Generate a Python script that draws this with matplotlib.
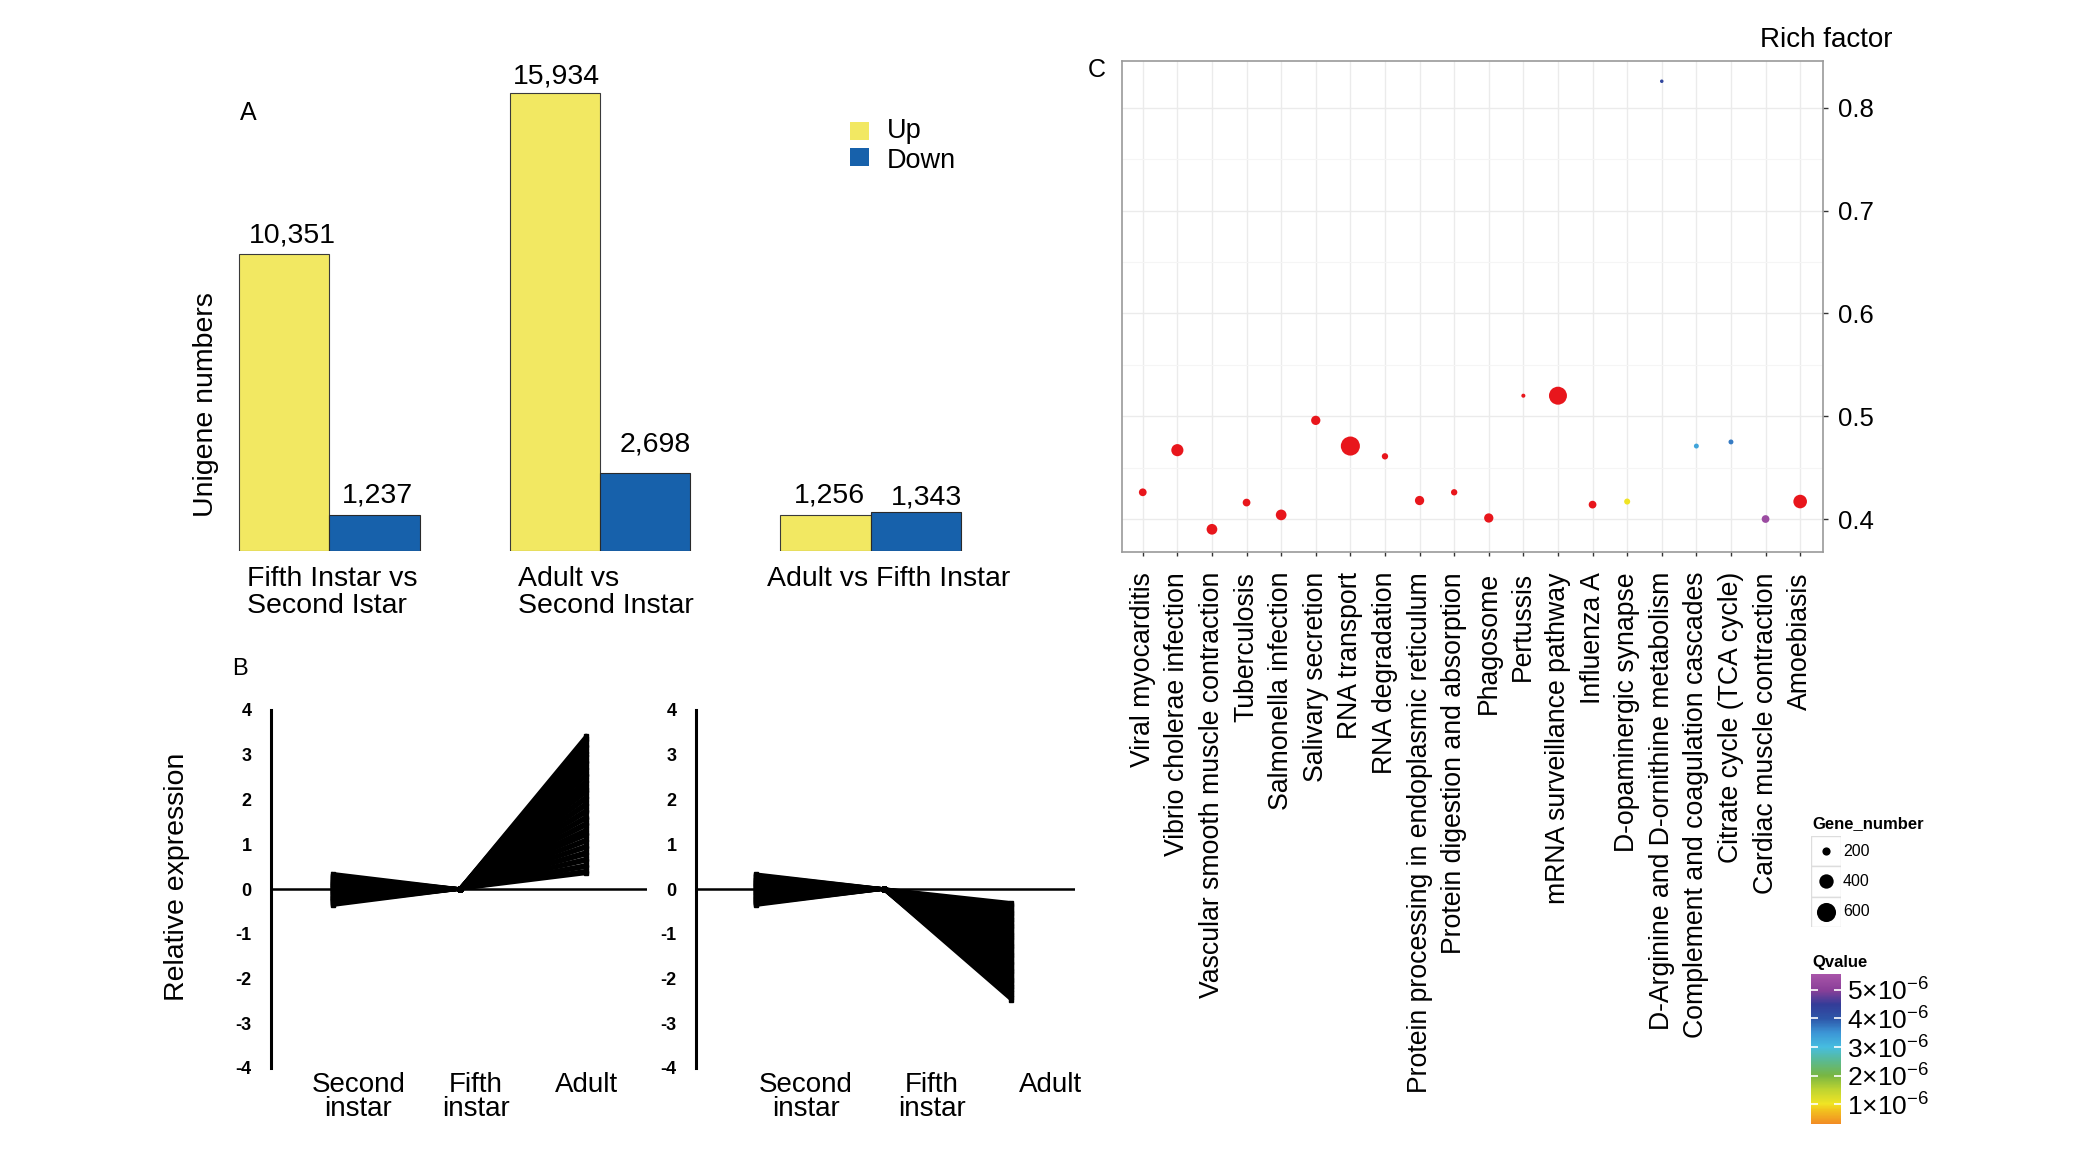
import numpy as np
import matplotlib
matplotlib.use('Agg')
import matplotlib.pyplot as plt
from matplotlib.patches import Rectangle
from matplotlib.colors import LinearSegmentedColormap, Normalize
from matplotlib.ticker import FixedLocator

plt.rcParams['font.family'] = ['Liberation Sans', 'DejaVu Sans']
plt.rcParams['mathtext.fontset'] = 'custom'
plt.rcParams['mathtext.rm'] = 'Liberation Sans'
plt.rcParams['mathtext.it'] = 'Liberation Sans:italic'
plt.rcParams['mathtext.bf'] = 'Liberation Sans:bold'

# ---------------- data ----------------
# Panel A
comparisons = ["Fifth Instar vs\nSecond Istar", "Adult vs\nSecond Instar", "Adult vs Fifth Instar"]
up_counts = [10351, 15934, 1256]
down_counts = [1237, 2698, 1343]

# Panel B (relative expression, fifth instar is the reference = 0)
stages = ["Second\ninstar", "Fifth\ninstar", "Adult"]
second_up = [0.34, 0.30, 0.28, 0.25, 0.24, 0.21, 0.19, 0.18, 0.15, 0.13, 0.12, 0.10, 0.08, 0.06,
             0.05, 0.03, 0.02, 0.00, -0.02, -0.03, -0.05, -0.07, -0.08, -0.10, -0.12, -0.13,
             -0.15, -0.17, -0.19, -0.20, -0.22, -0.24, -0.25, -0.27, -0.29, -0.31, -0.33, -0.36,
             0.11, -0.04, 0.16, -0.14, 0.07, -0.21]
adult_up = [3.42, 3.36, 3.30, 3.21, 3.17, 3.09, 3.02, 2.95, 2.87, 2.81, 2.72, 2.66, 2.57, 2.52,
            2.43, 2.37, 2.29, 2.21, 2.16, 2.07, 2.01, 1.92, 1.86, 1.77, 1.71, 1.62, 1.57, 1.48,
            1.42, 1.33, 1.26, 1.20, 1.11, 1.06, 0.97, 0.92, 0.83, 0.77, 0.68, 0.63, 0.54, 0.49,
            0.41, 0.35]
second_down = [0.33, 0.31, 0.28, 0.26, 0.23, 0.22, 0.19, 0.17, 0.16, 0.13, 0.11, 0.09, 0.08, 0.05,
               0.04, 0.02, 0.00, -0.01, -0.03, -0.05, -0.06, -0.09, -0.10, -0.12, -0.14, -0.15,
               -0.18, -0.19, -0.21, -0.23, -0.24, -0.26, -0.28, -0.30, -0.32, -0.34, -0.36, 0.12,
               -0.07, 0.20, -0.16, 0.06, -0.25, 0.14]
adult_down = [-0.31, -0.36, -0.40, -0.46, -0.51, -0.55, -0.60, -0.66, -0.70, -0.75, -0.81, -0.85,
              -0.90, -0.95, -1.00, -1.06, -1.10, -1.15, -1.21, -1.25, -1.30, -1.35, -1.41, -1.45,
              -1.50, -1.55, -1.61, -1.65, -1.70, -1.76, -1.80, -1.85, -1.90, -1.96, -2.00, -2.05,
              -2.10, -2.16, -2.20, -2.25, -2.31, -2.36, -2.41, -2.47]
FIFTH_REF = 0.0
b_yticks = [4, 3, 2, 1, 0, -1, -2, -3, -4]

# Panel C
pathways = ["Viral myocarditis", "Vibrio cholerae infection", "Vascular smooth muscle contraction",
            "Tuberculosis", "Salmonella infection", "Salivary secretion", "RNA transport",
            "RNA degradation", "Protein processing in endoplasmic reticulum",
            "Protein digestion and absorption", "Phagosome", "Pertussis",
            "mRNA surveillance pathway", "Influenza A", "D-opaminergic synapse",
            "D-Arginine and D-ornithine metabolism", "Complement and coagulation cascades",
            "Citrate cycle (TCA cycle)", "Cardiac muscle contraction", "Amoebiasis"]
rich_factor = [0.426, 0.467, 0.390, 0.416, 0.404, 0.496, 0.471, 0.461, 0.418, 0.426,
               0.401, 0.520, 0.520, 0.414, 0.417, 0.826, 0.471, 0.475, 0.400, 0.417]
gene_number = [188, 320, 273, 188, 273, 230, 600, 153, 230, 153,
               230, 104, 550, 188, 146, 94, 122, 122, 188, 372]
qvalue = [1e-9, 1e-9, 1e-9, 1e-9, 1e-9, 1e-9, 1e-9, 1e-9, 1e-9, 1e-9,
          1e-9, 1e-9, 1e-9, 1e-9, 1.0e-6, 4.3e-6, 3.3e-6, 3.7e-6, 5.3e-6, 1e-9]
legend_sizes = [200, 400, 600]
q_ticks = [1e-6, 2e-6, 3e-6, 4e-6, 5e-6]
q_ticklabels = [r'$1{\times}10^{-6}$', r'$2{\times}10^{-6}$', r'$3{\times}10^{-6}$',
                r'$4{\times}10^{-6}$', r'$5{\times}10^{-6}$']
rf_ticks = [0.4, 0.5, 0.6, 0.7, 0.8]

# ---------------- layout helpers ----------------
W, H = 2083, 1166
fig = plt.figure(figsize=(W / 100, H / 100), dpi=100)


def rect(l, t, r, b):
    return [l / W, 1 - b / H, (r - l) / W, (b - t) / H]


def fx(x):
    return x / W


def fy(y):
    return 1 - y / H


YELLOW = '#F2E862'
BLUE = '#1761AB'

# ---------------- Panel A ----------------
axA = fig.add_axes(rect(194, 62.4, 1006, 551))
xa = np.arange(len(comparisons))
bw = 1 / 3
bars_up = axA.bar(xa - bw / 2, up_counts, bw, color=YELLOW, edgecolor='#3a3a3a', linewidth=0.8)
bars_dn = axA.bar(xa + bw / 2, down_counts, bw, color=BLUE, edgecolor='#2a2a2a', linewidth=0.8)
# label nudges (points): (dx, dy)
up_nudge = [(6, 8), (1, 7), (3, 9)]
dn_nudge = [(2, 9), (7, 16), (8, 6)]
for bars, vals, nud in ((bars_up, up_counts, up_nudge), (bars_dn, down_counts, dn_nudge)):
    for b, v, (dx, dy) in zip(bars, vals, nud):
        axA.annotate(f"{v:,}", xy=(b.get_x() + b.get_width() / 2, v), xytext=(dx, dy),
                     textcoords='offset points', ha='center', va='baseline', fontsize=20.5)
label_dx = [0.03, 0.03, -0.05]
for i, lab in enumerate(comparisons):
    axA.annotate(lab, xy=(xa[i] - bw + label_dx[i], 0), xycoords=('data', 'axes fraction'),
                 xytext=(0, -11), textcoords='offset points', ha='left', va='top',
                 fontsize=20.5, linespacing=1.05)
axA.set_xlim(-0.5, 2.5)
axA.set_ylim(0, 17000)
axA.axis('off')
fig.text(fx(206), fy(405), "Unigene numbers", rotation=90, ha='center', va='center', fontsize=20.5)
fig.text(fx(240), fy(120), "A", ha='left', va='baseline', fontsize=18)
# legend
fig.add_artist(Rectangle((fx(850), fy(140)), 19 / W, 18 / H, transform=fig.transFigure,
                         facecolor=YELLOW, edgecolor='none'))
fig.add_artist(Rectangle((fx(850), fy(166)), 19 / W, 18 / H, transform=fig.transFigure,
                         facecolor=BLUE, edgecolor='none'))
fig.text(fx(887), fy(131), "Up", ha='left', va='center', fontsize=19.5)
fig.text(fx(887), fy(161), "Down", ha='left', va='center', fontsize=19.5)

# ---------------- Panel B ----------------
panels_b = [
    (rect(271, 710, 647, 1068), (-0.49, 2.48), second_up, adult_up, [0.2, 1.13, 2.0]),
    (rect(696, 710, 1075, 1068), (-0.47, 2.50), second_down, adult_down, [0.39, 1.38, 2.31]),
]
for r_, xl, sec, adu, labpos in panels_b:
    ax = fig.add_axes(r_)
    for s, a in zip(sec, adu):
        ax.plot([0, 1, 2], [s, FIFTH_REF, a], color='black', lw=2.6, marker='s', ms=3.4,
                solid_joinstyle='miter')
    ax.axhline(0, color='black', lw=1.8, zorder=1)
    ax.set_xlim(*xl)
    ax.set_ylim(-4, 4)
    for sp in ('top', 'right', 'bottom'):
        ax.spines[sp].set_visible(False)
    ax.spines['left'].set_linewidth(2.2)
    ax.set_yticks(b_yticks)
    ax.set_yticklabels([str(v) for v in b_yticks])
    ax.tick_params(axis='y', length=0, pad=14, labelsize=13)
    for lbl in ax.get_yticklabels():
        lbl.set_fontweight('bold')
    ax.set_xticks(labpos)
    ax.set_xticklabels(stages, fontsize=20, linespacing=0.91)
    ax.tick_params(axis='x', length=0, pad=3)
    ax.patch.set_alpha(0)
fig.text(fx(177), fy(877), "Relative expression", rotation=90, ha='center', va='center', fontsize=20.5)
fig.text(fx(232), fy(675), "B", ha='left', va='baseline', fontsize=17)

# ---------------- Panel C ----------------


def diam_px(n):
    return 8.2 + 1.05 * (np.sqrt(n) - np.sqrt(200))


def marker_area(n):
    return (diam_px(n) * 0.72) ** 2


q_anchor = [(0.0, '#F28C24'), (0.095, '#F2C51E'), (0.133, '#F0E424'), (0.228, '#BFD431'),
            (0.323, '#78B642'), (0.418, '#5BB98F'), (0.513, '#46BDE0'), (0.608, '#3C95D6'),
            (0.703, '#2D56A8'), (0.798, '#333C98'), (0.894, '#8A3F98'), (1.0, '#A855A9')]
cmap = LinearSegmentedColormap.from_list('qv', q_anchor)
cmap.set_under('#E8161C')
norm = Normalize(vmin=0.3e-6, vmax=5.56e-6)

axC = fig.add_axes(rect(1122, 61, 1823, 552))
xc = np.arange(len(pathways))
sc = axC.scatter(xc, rich_factor, s=[marker_area(n) for n in gene_number], c=qvalue,
                 cmap=cmap, norm=norm, linewidths=0, zorder=3)
axC.set_xlim(-0.6, 19.66)
axC.set_ylim(0.3679, 0.8457)
axC.set_axisbelow(True)
axC.set_xticks(xc)
axC.set_xticklabels(pathways, rotation=90, fontsize=19.2)
axC.tick_params(axis='x', length=2.9, width=1, color='#333333', pad=11.5)
axC.yaxis.tick_right()
axC.set_yticks(rf_ticks)
axC.set_yticklabels([f"{v:.1f}" for v in rf_ticks])
axC.tick_params(axis='y', length=3.6, width=1, color='#333333', pad=7, labelsize=18.5)
axC.yaxis.set_minor_locator(FixedLocator([0.45, 0.55, 0.65, 0.75]))
axC.tick_params(axis='y', which='minor', length=0)
axC.grid(True, which='major', color='#EBEBEB', lw=1.0)
axC.grid(True, which='minor', axis='y', color='#F5F5F5', lw=0.8)
for sp in axC.spines.values():
    sp.set_color('#9A9A9A')
    sp.set_linewidth(1.2)
fig.text(fx(1892), fy(47), "Rich factor", ha='right', va='baseline', fontsize=20)
fig.text(fx(1088), fy(77), "C", ha='left', va='baseline', fontsize=18)

# colorbar
cax = fig.add_axes(rect(1811, 974, 1841, 1124))
cb = fig.colorbar(sc, cax=cax)
cb.outline.set_visible(False)
cb.set_ticks(q_ticks)
cb.set_ticklabels(q_ticklabels)
cax.tick_params(axis='y', which='both', direction='in', color='white', length=5, width=1.2,
                left=True, right=True, labelleft=False, labelright=True, labelsize=19, pad=4)
cax.minorticks_off()
fig.text(fx(1812), fy(962), "Qvalue", ha='left', va='center', fontsize=12, fontweight='bold')

# size legend
fig.text(fx(1812), fy(824), "Gene_number", ha='left', va='center', fontsize=12, fontweight='bold')
legax = fig.add_axes(rect(1811, 836, 1841, 927))
legax.set_xlim(0, 30)
legax.set_ylim(91, 0)
for i, n in enumerate(legend_sizes):
    legax.add_patch(Rectangle((0, i * 30.3), 30, 30.3, facecolor='white', edgecolor='#DDDDDD', lw=1))
    legax.scatter([15], [15 + i * 30.3], s=marker_area(n), color='black', linewidths=0, zorder=3)
    fig.text(fx(1843), fy(851 + i * 30.3), str(n), ha='left', va='center', fontsize=11.5)
legax.axis('off')

fig.savefig('out.png', dpi=100)
